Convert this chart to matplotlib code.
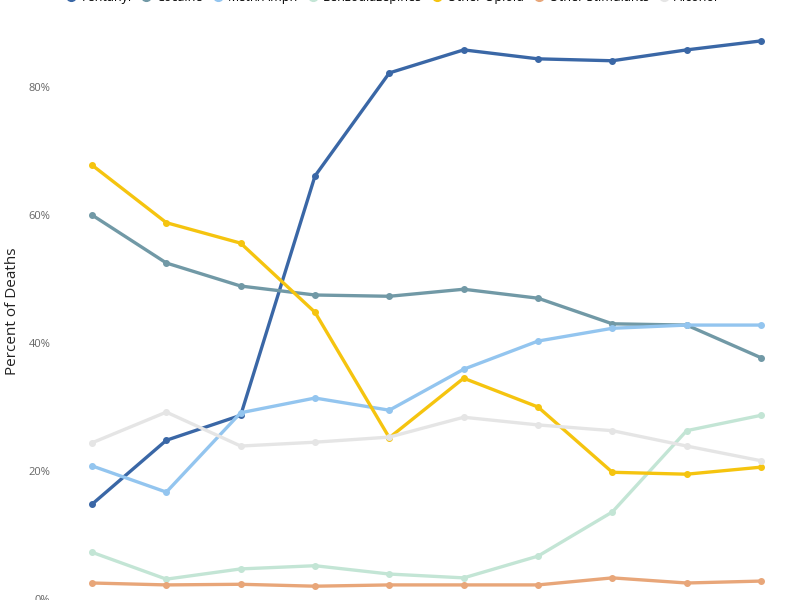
import matplotlib
matplotlib.use("Agg")
from matplotlib import pyplot as plt
from matplotlib.ticker import FuncFormatter

plt.rcParams['font.family'] = ['Open Sans', 'DejaVu Sans']

# one point per period, 10 periods
periods = list(range(10))

fentanyl = [14.8, 24.8, 28.7, 66.1, 82.2, 85.8, 84.4, 84.1, 85.8, 87.2]
cocaine = [60.0, 52.5, 48.9, 47.5, 47.3, 48.4, 47.0, 43.0, 42.8, 37.7]
meth_amph = [20.8, 16.7, 29.1, 31.4, 29.5, 35.9, 40.3, 42.3, 42.8, 42.8]
benzos = [7.3, 3.1, 4.7, 5.2, 3.9, 3.3, 6.7, 13.6, 26.3, 28.7]
other_opioid = [67.8, 58.8, 55.6, 44.8, 25.2, 34.5, 30.0, 19.8, 19.5, 20.6]
other_stim = [2.5, 2.2, 2.3, 2.0, 2.2, 2.2, 2.2, 3.3, 2.5, 2.8]
alcohol = [24.4, 29.2, 23.9, 24.5, 25.3, 28.4, 27.2, 26.3, 23.9, 21.6]

labels = ["Fentanyl", "Cocaine", "Meth/Amph", "Benzodiazepines",
          "Other Opioid", "Other Stimulants", "Alcohol"]
series = [fentanyl, cocaine, meth_amph, benzos, other_opioid, other_stim, alcohol]
colors = ["#3a67a6", "#7199a6", "#93c5ef", "#c3e5d5", "#f5c40f", "#e8a679", "#e5e5e5"]

fig = plt.figure(figsize=(7.93, 6.0), dpi=100)
# axes placed so the picture is cropped like the reference
ax = fig.add_axes([92 / 793, 1 / 600, (761 - 92) / 793, 576 / 600])

# draw back-to-front so fentanyl ends on top
order = [6, 5, 3, 2, 1, 4, 0]
handles = {}
for i in order:
    h, = ax.plot(periods, series[i], color=colors[i], lw=2.4, marker="o",
                 markersize=4, clip_on=False, label=labels[i], zorder=3 + i * 0.1)
    handles[i] = h

ax.set_xlim(0, 9)
ax.set_ylim(0, 90)
ax.set_yticks([0, 20, 40, 60, 80])
ax.yaxis.set_major_formatter(FuncFormatter(lambda v, p: "%d%%" % v))
ax.tick_params(axis="y", length=0, pad=30, labelsize=8, labelcolor="#666666")
ax.set_xticks([])
for s in ax.spines.values():
    s.set_visible(False)
ax.set_ylabel("Percent of Deaths", fontsize=11, color="#222222")
ax.yaxis.set_label_coords(-0.108, 0.5)

fig.legend([handles[i] for i in range(7)], labels, loc="lower center",
           bbox_to_anchor=(0.495, 0.994), ncol=7, frameon=False, fontsize=9,
           handlelength=0.6, handletextpad=0.5, columnspacing=0.9,
           borderpad=0, borderaxespad=0)
for line in fig.legends[0].get_lines():
    line.set_linewidth(0)
    line.set_markersize(7)

fig.savefig("out.png", dpi=100)
